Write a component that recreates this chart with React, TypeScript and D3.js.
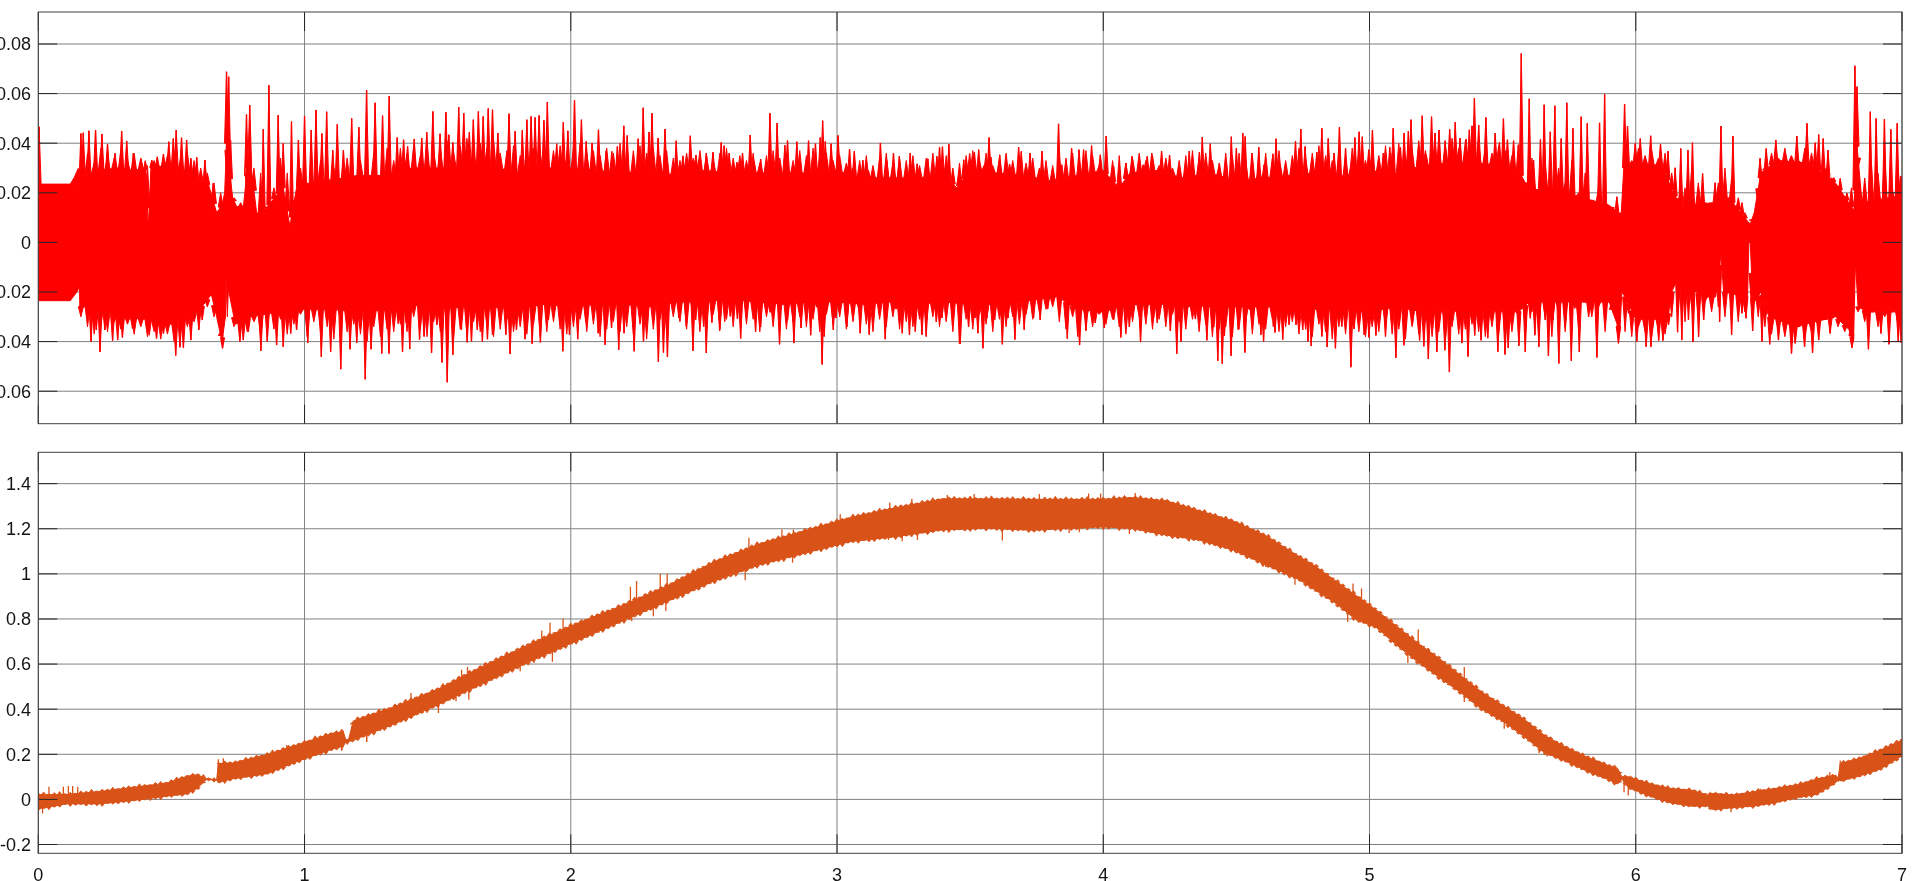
import React from "react";
import * as d3 from "d3";

type P = [number, number];

const xTicks = [0, 1, 2, 3, 4, 5, 6, 7];
const topTicks = [0.08, 0.06, 0.04, 0.02, 0, -0.02, -0.04, -0.06];
const bottomTicks = [1.4, 1.2, 1, 0.8, 0.6, 0.4, 0.2, 0, -0.2];
const topTickLabels = ["0.08", "0.06", "0.04", "0.02", "0", "-0.02", "-0.04", "-0.06"];
const bottomTickLabels = ["1.4", "1.2", "1", "0.8", "0.6", "0.4", "0.2", "0", "-0.2"];

const topUpperEnvelope: P[] = [[0,.0235],[.12,.0235],[.135,.0262],[.15,.0298],[.156,.022],[.17,.027],[.22,.029],[.3,.03],[.36,.029],[.4,.03],[.405,.028],[.413,.0055],[.423,.03],[.48,.031],[.55,.029],[.6,.025],[.64,.023],[.67,.012],[.69,.015],[.7,.02],[.707,.04],[.73,.018],[.745,.0145],[.77,.014],[.785,.03],[.8,.03],[.82,.012],[.84,.0115],[.88,.017],[.92,.022],[.945,.0065],[.97,.022],[1,.023],[1.05,.025],[1.1,.025],[1.2,.027],[1.35,.027],[1.4,.03],[1.5,.03],[1.6,.031],[1.7,.031],[1.8,.028],[1.9,.03],[2,.03],[2.1,.029],[2.2,.028],[2.3,.029],[2.4,.027],[2.45,.03],[2.5,.029],[2.6,.028],[2.7,.028],[2.8,.028],[2.9,.028],[3,.029],[3.1,.026],[3.2,.026],[3.3,.026],[3.4,.027],[3.45,.022],[3.5,.029],[3.6,.028],[3.7,.027],[3.8,.025],[3.9,.027],[4,.029],[4.06,.022],[4.1,.028],[4.2,.029],[4.3,.026],[4.4,.028],[4.5,.025],[4.6,.026],[4.7,.027],[4.8,.028],[4.9,.027],[5,.029],[5.1,.028],[5.2,.031],[5.3,.032],[5.4,.032],[5.5,.031],[5.56,.029],[5.6,.021],[5.7,.022],[5.8,.018],[5.9,.015],[5.945,.011],[5.955,.03],[6,.032],[6.1,.031],[6.14,.02],[6.17,.015],[6.3,.016],[6.35,.018],[6.42,.0085],[6.43,.0075],[6.445,.012],[6.47,.028],[6.53,.033],[6.65,.032],[6.75,.024],[6.8,.016],[6.82,.013],[6.83,.04],[6.85,.016],[7,.019]];

const topLowerEnvelope: P[] = [[0,-.0235],[.12,-.0235],[.145,-.02],[.155,-.018],[.157,-.026],[.2,-.026],[.3,-.03],[.4,-.031],[.5,-.033],[.6,-.028],[.65,-.021],[.67,-.03],[.69,-.04],[.703,-.03],[.706,-.003],[.712,-.003],[.716,-.02],[.74,-.033],[.8,-.03],[.9,-.028],[1,-.027],[1.1,-.027],[1.2,-.028],[1.35,-.027],[1.4,-.025],[1.5,-.027],[1.6,-.026],[1.7,-.026],[1.8,-.027],[1.9,-.025],[2,-.026],[2.1,-.025],[2.2,-.025],[2.3,-.026],[2.4,-.024],[2.5,-.024],[2.6,-.023],[2.7,-.024],[2.8,-.025],[2.9,-.024],[3,-.024],[3.1,-.025],[3.2,-.024],[3.3,-.025],[3.4,-.024],[3.5,-.025],[3.6,-.025],[3.7,-.024],[3.8,-.022],[3.83,-.022],[3.9,-.027],[4,-.028],[4.1,-.025],[4.2,-.025],[4.3,-.025],[4.4,-.026],[4.5,-.026],[4.6,-.026],[4.7,-.026],[4.8,-.027],[4.9,-.027],[5,-.028],[5.1,-.026],[5.2,-.028],[5.3,-.028],[5.4,-.027],[5.5,-.028],[5.56,-.028],[5.6,-.024],[5.75,-.024],[5.9,-.024],[5.94,-.036],[5.948,-.02],[5.96,-.022],[6,-.031],[6.12,-.031],[6.135,-.02],[6.16,-.014],[6.25,-.022],[6.3,-.022],[6.32,-.005],[6.33,-.02],[6.42,-.022],[6.425,0],[6.43,0],[6.44,-.025],[6.47,-.02],[6.5,-.03],[6.6,-.034],[6.75,-.03],[6.8,-.035],[6.818,-.04],[6.825,-.008],[6.835,-.026],[6.87,-.028],[7,-.028]];

const topUpperSpikes: P[] = [[.003,.0466],[.16,.0439],[.169,.0442],[.19,.045],[.215,.0453],[.239,.0437],[.26,.0396],[.288,.0359],[.313,.0449],[.332,.0409],[.357,.0359],[.386,.0335],[.402,.0329],[.426,.0332],[.447,.0345],[.47,.0356],[.49,.0406],[.507,.0419],[.518,.0453],[.538,.0422],[.557,.0413],[.573,.0339],[.595,.0343],[.626,.0332],[.657,.0238],[.685,.0181],[.707,.0688],[.715,.0668],[.722,.0413],[.782,.0516],[.794,.0554],[.845,.0456],[.866,.0634],[.901,.0513],[.92,.0399],[.951,.0487],[.977,.0413],[1,.0509],[1.025,.0453],[1.043,.0534],[1.065,.0439],[1.083,.0527],[1.106,.0372],[1.123,.0476],[1.146,.0372],[1.177,.05],[1.204,.0464],[1.233,.0614],[1.265,.0563],[1.293,.0511],[1.318,.059],[1.348,.0423],
[1.372,.0414],[1.387,.0387],[1.412,.0417],[1.44,.0421],[1.459,.0444],[1.482,.0528],[1.509,.0438],[1.531,.0525],[1.542,.0434],[1.557,.0403],[1.579,.0546],[1.598,.0521],[1.619,.0444],[1.634,.0495],[1.653,.0528],[1.671,.0508],[1.69,.054],[1.706,.0535],[1.726,.0441],[1.768,.0519],[1.791,.0448],[1.818,.0452],[1.835,.0495],[1.851,.0508],[1.866,.0504],[1.881,.0512],[1.899,.0492],[1.912,.0566],[1.947,.0398],[1.972,.0485],[1.989,.045],[2.014,.0573],[2.04,.0495],[2.058,.0407],[2.08,.0401],[2.104,.0454],[2.133,.037],[2.154,.0367],[2.175,.0387],[2.199,.047],[2.212,.0431],[2.253,.0418],[2.272,.0543],[2.294,.0445],[2.305,.0521],[2.328,.0421],[2.354,.0457],[2.396,.041],
[2.421,.0349],[2.449,.043],[2.47,.0352],[2.509,.036],[2.534,.0364],[2.565,.0403],[2.576,.039],[2.595,.036],[2.624,.0323],[2.645,.036],[2.674,.0433],[2.689,.0327],[2.713,.0336],[2.748,.0521],[2.775,.0481],[2.804,.0392],[2.814,.0411],[2.849,.0406],[2.893,.041],[2.919,.0398],[2.937,.0423],[2.946,.0491],[2.956,.0407],[2.978,.0398],[3.004,.0431],[3.047,.0376],[3.065,.0368],[3.097,.0331],[3.118,.029],[3.163,.0401],[3.187,.0329],[3.212,.036],[3.234,.0347],[3.275,.036],[3.301,.0317],[3.341,.0337],[3.375,.0347],[3.385,.0384],[3.396,.0386],[3.42,.0396],[3.456,.0259],
[3.476,.0333],[3.498,.0358],[3.516,.0363],[3.532,.0374],[3.551,.0309],[3.571,.0423],[3.578,.0343],[3.611,.0353],[3.648,.0316],[3.682,.0384],[3.692,.0367],[3.725,.036],[3.77,.0368],[3.81,.0277],[3.832,.0478],[3.844,.0313],[3.881,.038],[3.909,.0374],[3.926,.0374],[3.956,.039],[3.989,.0353],[4.011,.0429],[4.039,.0306],[4.064,.0239],[4.085,.032],[4.108,.0347],[4.15,.0313],[4.165,.0347],[4.182,.036],[4.219,.0368],[4.249,.0352],[4.286,.0293],[4.323,.0368],[4.361,.0364],[4.372,.0425],[4.402,.0398],[4.436,.032],[4.46,.0313],[4.481,.0426],[4.5,.038],
[4.524,.0441],[4.533,.0427],[4.558,.036],[4.584,.0384],[4.604,.0313],[4.637,.0357],[4.649,.0418],[4.665,.0313],[4.686,.0277],[4.711,.0339],[4.722,.0409],[4.742,.0457],[4.758,.0387],[4.783,.0333],[4.802,.0364],[4.821,.046],[4.845,.0419],[4.867,.036],[4.887,.0464],[4.91,.0379],[4.931,.0313],[4.945,.0423],[4.961,.0446],[4.973,.0426],[4.997,.0374],[5.011,.0452],[5.052,.036],[5.076,.0384],[5.089,.046],[5.116,.0383],[5.13,.0441],[5.146,.0449],[5.156,.0495],[5.185,.0391],[5.198,.0511],[5.213,.0353],[5.233,.0507],[5.246,.0441],[5.261,.0453],[5.284,.041],[5.301,.0456],[5.322,.0484],[5.34,.0421],[5.363,.0417],[5.375,.0454],[5.385,.047],[5.394,.0581],[5.41,.0473],[5.437,.0504],[5.472,.0441],[5.488,.0403],[5.503,.0499],[5.518,.0414],[5.541,.041],[5.559,.0394],
[5.57,.0762],[5.6,.0579],[5.616,.0332],[5.642,.0415],[5.656,.0555],[5.679,.0446],[5.696,.0551],[5.72,.0419],[5.741,.0563],[5.764,.046],[5.795,.0507],[5.818,.048],[5.864,.0482],[5.883,.0597],[5.929,.0184],[5.958,.0558],[5.969,.0469],[5.998,.0399],[6.017,.0419],[6.056,.043],[6.093,.0396],[6.121,.0368],[6.148,.0301],[6.169,.0379],[6.196,.0372],[6.213,.0402],[6.251,.0278],[6.298,.0241],[6.32,.0469],[6.365,.0429],[6.399,.016],[6.467,.0339],[6.49,.0379],[6.526,.0413],[6.555,.0328],[6.583,.0345],[6.605,.0429],[6.643,.048],[6.674,.0402],[6.687,.0435],[6.704,.0419],[6.722,.0372],[6.744,.0261],[6.768,.0258],[6.793,.0198],[6.823,.0712],[6.831,.0628],[6.881,.0527],[6.903,.05],[6.934,.0497],[6.958,.0456],[6.982,.048],[6.996,.0267]];

const topLowerSpikes: P[] = [[.157,-.0266],[.198,-.04],[.218,-.0353],[.232,-.0442],[.25,-.0353],[.279,-.0396],[.298,-.0394],[.316,-.0383],[.354,-.0347],[.417,-.0374],[.444,-.0387],[.47,-.0367],[.516,-.0456],[.532,-.0423],[.545,-.0425],[.573,-.0394],[.603,-.0353],[.616,-.0313],[.692,-.0427],[.757,-.04],[.77,-.0394],[.789,-.036],[.836,-.0437],[.86,-.04],[.895,-.0414],[.92,-.0421],[.948,-.0367],[.97,-.0353],[1.012,-.0405],[1.039,-.028],[1.063,-.0461],[1.098,-.0441],[1.136,-.0511],[1.171,-.0431],[1.196,-.0405],[1.228,-.0552],[1.25,-.0431],[1.29,-.0448],[1.317,-.0448],[1.352,-.0327],
[1.368,-.0441],[1.382,-.0325],[1.395,-.043],[1.412,-.0245],[1.432,-.0392],[1.449,-.0379],[1.477,-.0446],[1.497,-.0332],[1.516,-.0484],[1.536,-.0564],[1.557,-.0453],[1.589,-.0352],[1.611,-.0403],[1.627,-.0399],[1.649,-.0352],[1.668,-.0399],[1.687,-.039],[1.706,-.0372],[1.735,-.0305],[1.756,-.0372],[1.772,-.045],[1.796,-.0352],[1.828,-.039],[1.855,-.0409],[1.886,-.0403],[1.916,-.0312],[1.97,-.0439],[1.995,-.0372],[2.026,-.039],[2.056,-.0319],[2.103,-.0366],[2.129,-.0413],[2.153,-.0345],[2.18,-.0433],[2.2,-.0366],[2.238,-.0439],[2.273,-.0399],[2.329,-.0481],[2.348,-.0444],[2.363,-.0462],[2.406,-.0305],
[2.434,-.0339],[2.459,-.0437],[2.469,-.0312],[2.499,-.0339],[2.509,-.0446],[2.53,-.0323],[2.559,-.0356],[2.578,-.0319],[2.599,-.0298],[2.626,-.0309],[2.638,-.0387],[2.659,-.0265],[2.694,-.036],[2.713,-.0341],[2.749,-.0282],[2.784,-.0411],[2.814,-.0314],[2.838,-.0406],[2.865,-.0345],[2.901,-.0374],[2.924,-.0261],[2.944,-.0492],[2.952,-.0379],[2.986,-.0352],[2.996,-.0305],[3.037,-.0341],[3.06,-.0258],[3.087,-.0366],[3.121,-.0372],[3.181,-.039],[3.222,-.0269],[3.245,-.0366],[3.272,-.0372],[3.294,-.0359],[3.319,-.0372],[3.335,-.0379],[3.373,-.0321],[3.394,-.0305],[3.46,-.0409],
[3.463,-.0409],[3.494,-.0341],[3.518,-.0305],[3.529,-.0366],[3.548,-.0427],[3.563,-.0305],[3.592,-.0312],[3.621,-.0411],[3.642,-.0305],[3.668,-.0392],[3.703,-.0352],[3.738,-.0305],[3.763,-.0312],[3.791,-.0269],[3.834,-.0261],[3.865,-.0388],[3.904,-.0379],[3.911,-.0414],[3.935,-.0356],[3.97,-.0325],[4.004,-.0345],[4.039,-.0312],[4.066,-.0383],[4.098,-.0341],[4.14,-.0402],[4.189,-.0305],[4.203,-.0325],[4.252,-.0357],[4.276,-.0449],[4.292,-.04],[4.321,-.0261],[4.346,-.0309],[4.389,-.0395],[4.415,-.0341],[4.43,-.0477],[4.447,-.0489],[4.455,-.0376],[4.48,-.0457],[4.507,-.0352],
[4.532,-.0444],[4.549,-.0271],[4.592,-.0372],[4.602,-.0399],[4.639,-.0339],[4.645,-.0363],[4.674,-.0392],[4.698,-.0332],[4.724,-.0332],[4.749,-.0352],[4.769,-.0399],[4.781,-.0418],[4.821,-.0379],[4.841,-.0422],[4.872,-.0427],[4.896,-.0339],[4.93,-.0503],[4.942,-.0349],[4.98,-.0372],[4.998,-.0383],[5.024,-.0375],[5.06,-.0379],[5.099,-.0465],[5.112,-.0336],[5.129,-.0415],[5.161,-.0332],[5.188,-.0395],[5.204,-.0419],[5.221,-.047],[5.253,-.0441],[5.283,-.0435],[5.3,-.0523],[5.347,-.0406],[5.37,-.046],[5.395,-.0375],[5.419,-.0395],[5.444,-.0386],[5.482,-.0441],[5.509,-.0452],[5.521,-.0426],[5.561,-.0417],
[5.585,-.0441],[5.604,-.0306],[5.621,-.0374],[5.636,-.0421],[5.66,-.0313],[5.672,-.0458],[5.689,-.0313],[5.711,-.0488],[5.735,-.034],[5.758,-.0477],[5.771,-.0266],[5.788,-.0442],[5.823,-.03],[5.854,-.0464],[5.892,-.0219],[5.935,-.0407],[5.973,-.0286],[6.004,-.04],[6.039,-.0421],[6.057,-.0421],[6.086,-.0396],[6.102,-.0396],[6.123,-.0333],[6.157,-.0362],[6.173,-.0394],[6.198,-.0313],[6.215,-.0402],[6.236,-.038],[6.255,-.0313],[6.315,-.032],[6.36,-.0372],[6.399,-.0286],[6.414,-.0306],[6.439,-.0357],[6.474,-.04],[6.503,-.0411],[6.536,-.0394],[6.585,-.0448],[6.599,-.0407],[6.634,-.0421],[6.664,-.0445],[6.687,-.0394],[6.73,-.0367],[6.812,-.0425],[6.874,-.0431],[6.921,-.0367],[6.951,-.0411],[6.986,-.04],[6.997,-.0404]];

// fringe levels, thousandths, every 0.025 from t = 0.16
const topUpperTeeth = [33,36,32,38,35,34,37,33,36,34,31,33,30,35,37,34,36,33,30,28,24,20,
24,18,16,16,30,28,14,22,34,28,17,30,24,16,33,27,30,22,34,25,33,28,36,26,38,33,
38,36,39,35,40,37,38,41,36,39,42,37,40,38,41,36,37,39,35,40,38,36,41,37,39,34,38,40,36,37,35,38,36,40,34,37,39,36,38,35,37,34,
33,36,34,37,35,33,36,38,34,35,33,36,32,35,37,34,36,33,37,35,38,34,36,33,35,32,30,33,35,31,34,36,32,34,33,35,31,34,36,33,35,30,
32,35,37,33,36,31,34,36,33,35,32,34,30,33,31,35,34,36,33,37,35,31,27,33,35,32,34,36,33,35,31,34,30,33,35,37,34,36,33,31,36,35,
36,33,35,31,36,34,37,33,35,38,34,36,39,35,33,37,34,38,36,33,37,35,39,36,40,35,38,41,37,40,36,39,42,38,41,37,40,38,36,39,37,35,
26,22,34,18,32,20,30,24,33,20,28,16,22,14,12,10,
36,33,38,35,37,34,36,28,
18,22,30,24,16,14,24,30,26,18,12,9,14,
30,36,34,38,35,33,38,36,34,30,26,22,18,
22,30,26,32,28,34,24,30];
const topLowerTeeth = [30,34,37,33,36,32,35,33,37,34,38,36,39,37,40,36,34,32,28,26,30,36,
30,34,28,36,32,38,30,35,31,37,33,29,38,32,36,34,39,31,36,33,37,40,34,38,35,36,
33,36,30,35,38,32,36,34,39,35,37,32,36,33,38,35,31,36,34,37,33,38,36,32,35,37,34,31,36,33,38,35,32,36,34,37,33,39,35,31,36,30,
32,35,30,36,33,29,35,31,34,28,33,31,36,30,34,28,35,32,30,34,31,36,29,33,30,35,32,28,33,36,31,34,30,35,32,34,31,33,30,34,32,36,
33,31,35,29,33,36,31,34,30,33,29,31,28,27,26,32,35,30,33,31,34,29,33,31,34,37,32,30,33,35,31,34,29,32,35,31,36,33,38,35,34,38,
35,32,37,33,35,31,36,34,32,37,35,38,33,36,39,34,37,33,36,38,34,36,33,37,35,39,34,37,32,38,36,40,34,37,35,33,36,38,34,37,39,36,
30,34,28,36,30,38,28,36,26,34,24,30,26,36,24,32,
36,38,34,36,38,35,37,30,
28,32,26,30,24,28,26,30,24,32,28,26,30,
34,37,35,38,36,34,37,36,33,30,28,34,36,
30,28,32,26,34,30,27,33];

const bandT = [0,.106,.232,.357,.482,.557,.595,.632,.67,.676,.732,.858,.983,1.108,1.146,1.155,1.165,1.183,1.328,1.5,1.672,1.845,2.017,2.19,2.362,2.534,2.707,2.879,3.052,3.224,3.397,3.569,3.737,3.862,4,4.11,4.238,4.363,4.488,4.613,4.74,4.789,4.868,4.946,5.025,5.104,5.183,5.262,5.341,5.42,5.498,5.577,5.656,5.735,5.814,5.893,5.932,5.948,5.972,6.05,6.129,6.208,6.271,6.287,6.366,6.445,6.524,6.603,6.681,6.752,6.76,6.768,6.839,6.918,7];
const bandHi = [.027,.027,.041,.059,.078,.108,.115,.098,.09,.165,.167,.204,.252,.3,.305,.27,.27,.354,.413,.494,.598,.694,.783,.864,.953,1.057,1.138,1.197,1.256,1.3,1.338,1.338,1.336,1.336,1.336,1.344,1.329,1.285,1.24,1.174,1.08,1.046,.979,.913,.846,.772,.698,.631,.557,.483,.424,.365,.291,.239,.195,.158,.143,.106,.106,.076,.054,.047,.025,.032,.025,.04,.054,.069,.096,.113,.1,.165,.187,.224,.269];
const bandLo = [-.047,-.025,-.025,-.01,.009,.019,.041,.083,.082,.071,.086,.108,.167,.219,.23,.25,.25,.257,.324,.413,.509,.605,.694,.783,.872,.96,1.034,1.086,1.138,1.16,1.19,1.197,1.188,1.196,1.203,1.196,1.166,1.144,1.1,1.033,.966,.927,.868,.794,.757,.676,.602,.535,.469,.395,.343,.276,.202,.165,.121,.084,.062,.084,.047,.01,-.02,-.035,-.035,-.05,-.042,-.035,-.02,.002,.017,.069,.084,.076,.098,.128,.187];

// edge roughness, thousandths above the solid band, every 0.02 from t = 0
const bandHiTeeth = [6,12,3,9,14,5,8,2,11,7,13,4,9,6,12,3,8,10,5,13,7,2,9,11,4,8,12,6,3,10,7,13,5,9,2,11,6,8,4,12,7,10,3,9,13,5,8,11,6,4,
10,3,14,7,11,5,9,13,2,8,12,6,10,4,14,8,3,11,6,13,9,5,12,2,10,7,14,4,8,11,6,13,3,9,12,5,10,7,14,2,8,11,6,13,4,9,12,3,10,7,
14,5,9,2,12,8,13,6,3,11,7,10,14,4,9,12,5,8,13,2,10,6,11,14,7,3,9,12,5,13,8,4,11,6,10,14,2,9,7,12,5,13,8,3,11,10,6,14,4,9,
12,7,2,13,8,11,5,10,14,6,3,12,9,7,13,4,11,8,14,5,2,10,12,6,9,13,7,3,11,14,5,8,10,12,4,13,6,9,2,11,7,14,5,12,8,3,10,13,6,9,
11,4,14,7,12,2,9,13,6,10,5,12,8,3,14,7,11,9,4,13,6,10,2,12,8,5,14,9,3,11,7,13,6,10,4,12,2,8,11,5,13,9,7,3,12,10,6,14,4,8,
11,6,9,3,12,7,10,5,13,8,2,11,6,9,4,12,7,10,3,8,13,5,9,2,11,6,12,4,8,10,3,7,12,5,9,2,11,6,8,4,10,7,12,3,9,5,11,2,8,6,
10,4,12,7,3,9,11,5,8,2,10,6,12,4,9,7,3,11,5,8,2,10,6,12,4,9,3,7,11,5,8,10,2,6,12,4,9,7,3,11,5,10,8,2,6,12,4,9,7,11,3];
const bandLoTeeth = [8,3,13,6,10,2,12,7,4,11,5,9,13,2,8,10,6,12,3,9,5,11,7,13,4,8,2,10,6,12,9,3,7,11,5,13,8,4,10,2,12,6,9,3,11,7,13,5,8,10,
4,12,2,9,14,6,10,3,13,7,11,5,8,14,2,12,6,9,4,13,10,3,7,14,5,11,8,2,12,9,6,13,4,10,14,3,7,11,5,12,8,2,13,9,6,14,4,10,7,12,
3,14,8,5,11,2,13,7,10,4,14,9,6,12,3,8,13,5,11,2,10,14,7,4,12,9,3,13,6,11,8,14,2,10,5,12,7,13,4,9,14,3,11,6,8,12,2,13,10,5,
9,14,4,7,12,2,11,13,6,8,3,14,10,5,12,9,2,13,7,4,11,14,6,3,10,12,8,2,13,5,9,14,4,11,7,3,12,10,6,13,2,8,14,5,11,9,4,12,3,7,
13,10,2,14,6,9,12,4,11,3,14,8,5,13,10,2,12,7,4,14,9,6,11,3,13,8,5,12,2,10,14,7,4,11,9,13,3,6,12,8,2,14,5,10,11,7,3,13,9,4,
12,6,10,2,13,8,4,11,7,12,3,9,5,13,10,2,8,11,6,3,12,9,4,7,10,2,13,5,8,11,3,6,12,9,2,7,10,4,12,6,3,9,11,5,2,8,12,4,10,6,
3,9,11,2,7,12,5,8,3,10,6,2,11,4,9,7,12,3,5,10,8,2,11,6,4,9,12,3,7,5,10,2,8,11,4,6,9,3,12,7,2,10,5,8,11,3,6,9,4,10,7];

const bottomUpSpikes: P[] = [[.04,.056],[.094,.056],[.113,.059],[.129,.059],[.148,.056],[.676,.178],[.695,.182],[.933,.241],[1.177,.323],[1.4,.472],[1.59,.575],[1.612,.587],[1.891,.749],[1.922,.783],[1.971,.802],[2.224,.943],[2.247,.968],[2.336,1],[2.362,1],[2.669,1.16],[2.793,1.197],[2.836,1.197],[3.012,1.264],[3.198,1.316],[3.281,1.333],[3.414,1.35],[3.515,1.354],[3.76,1.354],[3.945,1.356],[3.99,1.356],[4.12,1.359],[4.938,.957],[4.97,.935],[5.183,.753],[5.356,.587],[6.468,.047],[6.729,.121],[6.768,.173]];
const bottomDownSpikes: P[] = [[.016,-.062],[.041,-.04],[1.139,.216],[1.141,.219],[1.233,.256],[1.234,.254],[1.503,.383],[1.569,.435],[1.617,.442],[1.81,.568],[1.862,.605],[1.931,.61],[2.229,.79],[2.31,.812],[2.357,.835],[2.655,.972],[2.833,1.049],[3.193,1.15],[3.245,1.145],[3.302,1.15],[3.621,1.148],[3.872,1.181],[3.91,1.184],[4.098,1.177],[4.323,1.144],[4.44,1.12],[4.61,1.03],[4.72,.952],[4.918,.787],[4.965,.784],[5.144,.605],[5.356,.432],[5.506,.313],[5.637,.205],[5.667,.19],[5.956,.032],[5.972,.017],[6.311,-.046],[6.358,-.057]];

const RED = "#ff0000";
const ORANGE = "#d95319";
const LEFT = 38.3, RIGHT = 1902;
const TICK = 19;
const TEETH_T0 = 0.16, TEETH_STEP = 0.025, BAND_STEP = 0.02, BAND_INSET = 0.006;

function Panel(props: { top: number; bottom: number; yDomain: [number, number]; ticks: number[]; labels: string[]; id: string; children: (x: d3.ScaleLinear<number, number>, y: d3.ScaleLinear<number, number>) => React.ReactNode; xLabels?: boolean }) {
  const { top, bottom, yDomain, ticks, labels, id, children, xLabels } = props;
  const x = d3.scaleLinear().domain([0, 7]).range([LEFT, RIGHT]);
  const y = d3.scaleLinear().domain(yDomain).range([bottom, top]);
  return (
    <g>
      <clipPath id={id}><rect x={LEFT} y={top} width={RIGHT - LEFT} height={bottom - top} /></clipPath>
      <g stroke="#808080" strokeWidth={1} fill="none">
        {ticks.map((t) => <line key={t} x1={LEFT} x2={RIGHT} y1={y(t)} y2={y(t)} />)}
        {xTicks.map((t) => <line key={t} x1={x(t)} x2={x(t)} y1={top} y2={bottom} />)}
      </g>
      <g clipPath={`url(#${id})`}>{children(x, y)}</g>
      <g stroke="#262626" strokeWidth={1} fill="none">
        {ticks.map((t) => (
          <g key={t}>
            <line x1={LEFT} x2={LEFT + TICK} y1={y(t)} y2={y(t)} />
            <line x1={RIGHT - TICK} x2={RIGHT} y1={y(t)} y2={y(t)} />
          </g>
        ))}
        {xTicks.map((t) => (
          <g key={t}>
            <line x1={x(t)} x2={x(t)} y1={top} y2={top + TICK} />
            <line x1={x(t)} x2={x(t)} y1={bottom - TICK} y2={bottom} />
          </g>
        ))}
        <rect x={LEFT} y={top} width={RIGHT - LEFT} height={bottom - top} stroke="#404040" />
      </g>
      <g fontFamily="'Liberation Sans', Arial, sans-serif" fontSize={18} fill="#141414">
        {ticks.map((t, i) => (
          <text key={t} x={31} y={y(t) + 6.4} textAnchor="end">{labels[i]}</text>
        ))}
        {xLabels && xTicks.map((t) => (
          <text key={t} x={x(t)} y={881} textAnchor="middle">{t}</text>
        ))}
      </g>
    </g>
  );
}

function tooth(px: number, w: number, baseY: number, tipY: number) {
  return `M${px - w},${baseY}L${px},${tipY}L${px + w},${baseY}Z`;
}

export default function App() {
  return (
    <svg width={1920} height={881} style={{ position: "fixed", left: 0, top: 0, display: "block", background: "#fff", filter: "blur(0.4px)" }}>
      <Panel id="clipTop" top={12} bottom={423.7} yDomain={[-0.0731, 0.0929]} ticks={topTicks} labels={topTickLabels}>
        {(x, y) => {
          const upper = d3.scaleLinear().domain(topUpperEnvelope.map((d) => d[0])).range(topUpperEnvelope.map((d) => d[1]));
          const lower = d3.scaleLinear().domain(topLowerEnvelope.map((d) => d[0])).range(topLowerEnvelope.map((d) => d[1]));
          const ts = Array.from(new Set([...topUpperEnvelope, ...topLowerEnvelope].map((d) => d[0]))).sort((a, b) => a - b);
          const area = d3.area<number>().x((t) => x(t)).y0((t) => y(lower(t))).y1((t) => y(upper(t)));
          let teeth = "";
          topUpperSpikes.forEach((d) => { teeth += tooth(x(d[0]), 2, y(upper(d[0])), y(d[1])); });
          topLowerSpikes.forEach((d) => { teeth += tooth(x(d[0]), 2, y(lower(d[0])), y(d[1])); });
          topUpperTeeth.forEach((v, i) => { const t = TEETH_T0 + i * TEETH_STEP; teeth += tooth(x(t), 2.4, y(upper(t)), y(v / 1000)); });
          topLowerTeeth.forEach((v, i) => { const t = TEETH_T0 + i * TEETH_STEP; teeth += tooth(x(t), 2.4, y(lower(t)), y(-v / 1000)); });
          const stems = [...topUpperSpikes, ...topLowerSpikes].map((d) => `M${x(d[0])},${y(0)}L${x(d[0])},${y(d[1])}`).join("");
          return (
            <g>
              <path d={area(ts) || ""} fill={RED} stroke={RED} strokeWidth={1} />
              <path d={teeth} fill={RED} stroke={RED} strokeWidth={1} strokeLinejoin="miter" />
              <path d={stems} fill="none" stroke={RED} strokeWidth={1.4} />
            </g>
          );
        }}
      </Panel>
      <Panel id="clipBottom" top={452.3} bottom={853.3} yDomain={[-0.239, 1.539]} ticks={bottomTicks} labels={bottomTickLabels} xLabels>
        {(x, y) => {
          const hi = d3.scaleLinear().domain(bandT).range(bandHi);
          const lo = d3.scaleLinear().domain(bandT).range(bandLo);
          const top0 = (t: number) => Math.max(hi(t) - BAND_INSET, (hi(t) + lo(t)) / 2);
          const bot0 = (t: number) => Math.min(lo(t) + BAND_INSET, (hi(t) + lo(t)) / 2);
          const area = d3.area<number>().x((t) => x(t)).y0((t) => y(bot0(t))).y1((t) => y(top0(t)));
          let teeth = "";
          bandHiTeeth.forEach((v, i) => {
            const t = i * BAND_STEP;
            teeth += tooth(x(t), 2.2, y(top0(t)), y(Math.min(top0(t) + v / 1000, hi(t) + 0.008)));
          });
          bandLoTeeth.forEach((v, i) => {
            const t = i * BAND_STEP;
            teeth += tooth(x(t), 2.2, y(bot0(t)), y(Math.max(bot0(t) - v / 1000, lo(t) - 0.008)));
          });
          const spikes = [...bottomUpSpikes, ...bottomDownSpikes].map((d) => `M${x(d[0])},${y((hi(d[0]) + lo(d[0])) / 2)}L${x(d[0])},${y(d[1])}`).join("");
          return (
            <g>
              <path d={area(bandT) || ""} fill={ORANGE} stroke={ORANGE} strokeWidth={1} />
              <path d={teeth} fill={ORANGE} stroke={ORANGE} strokeWidth={0.8} />
              <path d={spikes} fill="none" stroke={ORANGE} strokeWidth={1.3} />
            </g>
          );
        }}
      </Panel>
    </svg>
  );
}
